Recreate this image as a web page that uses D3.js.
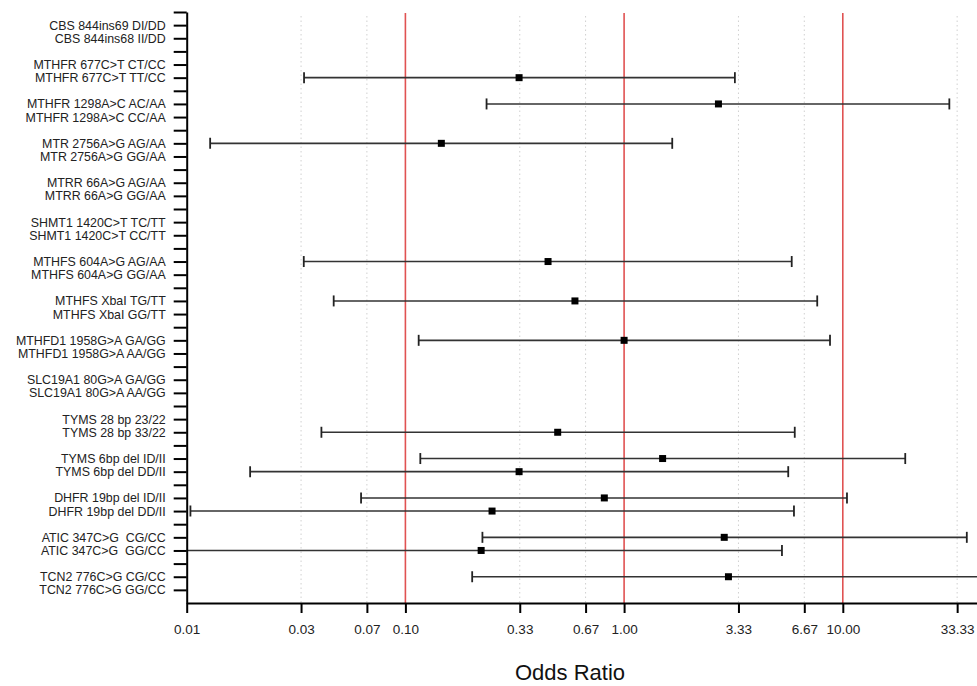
<!DOCTYPE html>
<html>
<head>
<meta charset="utf-8">
<script src="https://cdn.jsdelivr.net/npm/d3@7"></script>
<style>
  html, body { margin: 0; padding: 0; background: #fff; }
  svg { display: block; }
  .ylab text { font-family: "Liberation Sans", Arial, sans-serif; font-size: 12.4px; fill: #222; white-space: pre; }
  .xlab text { font-family: "Liberation Sans", Arial, sans-serif; font-size: 13.5px; fill: #222; }
</style>
</head>
<body>
<svg id="chart" width="977" height="686"></svg>
<script>
// Genotype comparisons, two per gene/polymorphism
const categories = [
  "CBS 844ins69 DI/DD", "CBS 844ins68 II/DD",
  "MTHFR 677C>T CT/CC", "MTHFR 677C>T TT/CC",
  "MTHFR 1298A>C AC/AA", "MTHFR 1298A>C CC/AA",
  "MTR 2756A>G AG/AA", "MTR 2756A>G GG/AA",
  "MTRR 66A>G AG/AA", "MTRR 66A>G GG/AA",
  "SHMT1 1420C>T TC/TT", "SHMT1 1420C>T CC/TT",
  "MTHFS 604A>G AG/AA", "MTHFS 604A>G GG/AA",
  "MTHFS XbaI TG/TT", "MTHFS XbaI GG/TT",
  "MTHFD1 1958G>A GA/GG", "MTHFD1 1958G>A AA/GG",
  "SLC19A1 80G>A GA/GG", "SLC19A1 80G>A AA/GG",
  "TYMS 28 bp 23/22", "TYMS 28 bp 33/22",
  "TYMS 6bp del ID/II", "TYMS 6bp del DD/II",
  "DHFR 19bp del ID/II", "DHFR 19bp del DD/II",
  "ATIC 347C>G  CG/CC", "ATIC 347C>G  GG/CC",
  "TCN2 776C>G CG/CC", "TCN2 776C>G GG/CC"
];

// Odds ratio and 95% CI per category (null = not estimable)
const oddsRatio = [
  null, null,
  null, 0.331,
  2.70, null,
  0.146, null,
  null, null,
  null, null,
  0.449, null,
  0.596, null,
  1.00, null,
  null, null,
  null, 0.497,
  1.50, 0.331,
  0.812, 0.249,
  2.87, 0.222,
  3.00, null
];
const ciLower = [
  null, null,
  null, 0.0344,
  0.235, null,
  0.0128, null,
  null, null,
  null, null,
  0.0343, null,
  0.047, null,
  0.115, null,
  null, null,
  null, 0.0413,
  0.117, 0.0195,
  0.0627, 0.0104,
  0.225, 0.008,
  0.202, null
];
const ciUpper = [
  null, null,
  null, 3.21,
  30.7, null,
  1.66, null,
  null, null,
  null, null,
  5.84, null,
  7.64, null,
  8.74, null,
  null, null,
  null, 6.03,
  19.3, 5.63,
  10.45, 5.98,
  36.9, 5.27,
  80, null
];

const xTicks = [0.01, 1 / 30, 1 / 15, 0.1, 1 / 3, 2 / 3, 1, 10 / 3, 20 / 3, 10, 100 / 3];
const refLines = [0.1, 1, 10];
const xTitle = "Odds Ratio";

const W = 977, H = 686;
const plotLeft = 186.7, decade = 218.7, plotTop = 12, plotBottom = 603;

const svg = d3.select("#chart");

// Each gene occupies three slots: two comparisons plus a spacer
const slotOf = i => Math.floor(i / 2) * 3 + (i % 2);
const nSlots = Math.floor((categories.length - 1) / 2) * 3 + 2; // last label slot + 1

const x = d3.scaleLog().domain([0.01, 100]).range([plotLeft, plotLeft + 4 * decade]);
const y = d3.scaleLinear().domain([-1, nSlots]).range([plotTop, plotBottom]);

const rows = categories.map((c, i) => ({
  label: c, slot: slotOf(i), or: oddsRatio[i], lo: ciLower[i], hi: ciUpper[i]
}));

svg.append("defs").append("clipPath").attr("id", "plotClip")
  .append("rect").attr("x", plotLeft).attr("y", 0).attr("width", W - plotLeft).attr("height", H);

// Dotted grid at each x tick
svg.append("g").selectAll("line")
  .data(xTicks.filter(t => !refLines.some(r => Math.abs(r - t) < 1e-9) && t > 0.01))
  .join("line")
  .attr("x1", d => x(d)).attr("x2", d => x(d))
  .attr("y1", plotTop + 4).attr("y2", plotBottom)
  .attr("stroke", "#d0d0d0").attr("stroke-width", 1)
  .attr("stroke-dasharray", "1.5,3");

// Reference lines
svg.append("g").selectAll("line")
  .data(refLines).join("line")
  .attr("x1", d => x(d)).attr("x2", d => x(d))
  .attr("y1", plotTop + 1).attr("y2", plotBottom)
  .attr("stroke", "#e05252").attr("stroke-width", 1.6);

// Confidence intervals and point estimates
const est = rows.filter(r => r.or != null);
const bars = svg.append("g").attr("clip-path", "url(#plotClip)");
bars.selectAll("line.ci").data(est).join("line").attr("class", "ci")
  .attr("x1", d => x(d.lo)).attr("x2", d => x(d.hi))
  .attr("y1", d => y(d.slot)).attr("y2", d => y(d.slot))
  .attr("stroke", "#333").attr("stroke-width", 1.6);
const capH = 5.5;
bars.selectAll("line.caplo").data(est).join("line").attr("class", "caplo")
  .attr("x1", d => x(d.lo)).attr("x2", d => x(d.lo))
  .attr("y1", d => y(d.slot) - capH).attr("y2", d => y(d.slot) + capH)
  .attr("stroke", "#222").attr("stroke-width", 1.8);
bars.selectAll("line.caphi").data(est).join("line").attr("class", "caphi")
  .attr("x1", d => x(d.hi)).attr("x2", d => x(d.hi))
  .attr("y1", d => y(d.slot) - capH).attr("y2", d => y(d.slot) + capH)
  .attr("stroke", "#222").attr("stroke-width", 1.8);
const sq = 7;
bars.selectAll("rect.pt").data(est).join("rect").attr("class", "pt")
  .attr("x", d => x(d.or) - sq / 2).attr("y", d => y(d.slot) - sq / 2)
  .attr("width", sq).attr("height", sq).attr("fill", "#000");

// Y axis: a tick per slot, labels on the comparison rows
const labelBySlot = new Map(rows.map(r => [r.slot, r.label]));
const yAxis = d3.axisLeft(y)
  .tickValues(d3.range(-1, nSlots))
  .tickFormat(s => labelBySlot.get(s) || "")
  .tickSize(13).tickSizeOuter(0).tickPadding(8);
const gy = svg.append("g").attr("class", "ylab")
  .attr("transform", `translate(${plotLeft},0)`).call(yAxis);
gy.select(".domain").attr("stroke", "#000").attr("stroke-width", 2);
gy.selectAll(".tick line").attr("stroke", "#000").attr("stroke-width", 2);
gy.selectAll(".tick text").attr("xml:space", "preserve");

// X axis
const xAxis = d3.axisBottom(x)
  .tickValues(xTicks)
  .tickFormat(d3.format(".2f"))
  .tickSize(10).tickSizeOuter(0).tickPadding(11);
const gx = svg.append("g").attr("class", "xlab")
  .attr("transform", `translate(0,${plotBottom})`).call(xAxis);
gx.select(".domain").attr("stroke", "#000").attr("stroke-width", 2);
gx.selectAll(".tick line").attr("stroke", "#000").attr("stroke-width", 2);

svg.append("text")
  .attr("x", 570).attr("y", 680)
  .attr("text-anchor", "middle")
  .attr("font-family", "Liberation Sans, Arial, sans-serif")
  .attr("font-size", 22).attr("fill", "#111")
  .text(xTitle);
</script>
</body>
</html>
